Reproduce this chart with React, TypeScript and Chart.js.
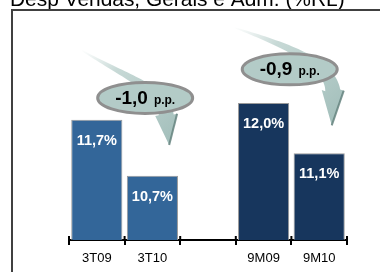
import React, { useEffect, useRef } from "react";
import { Chart, registerables } from "chart.js";

Chart.register(...registerables);

const titleText = "Desp Vendas, Gerais e Adm. (%RL)";
const categories = ["3T09", "3T10", "", "9M09", "9M10"];
const values: (number | null)[] = [11.7, 10.7, null, 12.0, 11.1];
const valueLabels = ["11,7%", "10,7%", "", "12,0%", "11,1%"];
const barColors = ["#336699", "#336699", "#336699", "#17365d", "#17365d"];
const calloutMain = ["-1,0", "-0,9"];
const calloutUnit = ["p.p.", "p.p."];
const calloutX = [0.87, 3.47];
const calloutY = [12.09, 12.6];

const FONT = "'Liberation Sans', Arial, Helvetica, sans-serif";

// arrow shapes relative to the callout centre (style geometry)
const ARROW_SHAPES = [
  { p0: [-64, -48], p1: [-22, -22], p2: [20, -8], p3: [21, 17], tip: [24, 47] },
  { p0: [-56, -42], p1: [-10, -26], p2: [40, -8], p3: [43, 21], tip: [42, 56] },
];

function drawArrow(ctx: CanvasRenderingContext2D, cx: number, cy: number, k: number) {
  const s = ARROW_SHAPES[k];
  const P = [s.p0, s.p1, s.p2, s.p3].map((p) => ({ x: cx + p[0], y: cy + p[1] }));
  const tip = { x: cx + s.tip[0], y: cy + s.tip[1] };
  const headHalf = 11;
  const left: { x: number; y: number }[] = [];
  const right: { x: number; y: number }[] = [];
  const N = 40;
  for (let i = 0; i <= N; i++) {
    const t = i / N;
    const a = (1 - t) ** 3, b = 3 * (1 - t) ** 2 * t, c = 3 * (1 - t) * t * t, d = t ** 3;
    const x = a * P[0].x + b * P[1].x + c * P[2].x + d * P[3].x;
    const y = a * P[0].y + b * P[1].y + c * P[2].y + d * P[3].y;
    const dx = 3 * (1 - t) ** 2 * (P[1].x - P[0].x) + 6 * (1 - t) * t * (P[2].x - P[1].x) + 3 * t * t * (P[3].x - P[2].x);
    const dy = 3 * (1 - t) ** 2 * (P[1].y - P[0].y) + 6 * (1 - t) * t * (P[2].y - P[1].y) + 3 * t * t * (P[3].y - P[2].y);
    const len = Math.hypot(dx, dy) || 1;
    const nx = -dy / len;
    const ny = dx / len;
    const hw = 0.5 + 7 * t;
    left.push({ x: x + nx * hw, y: y + ny * hw });
    right.push({ x: x - nx * hw, y: y - ny * hw });
  }
  const B = P[3];
  const ddx = tip.x - B.x;
  const ddy = tip.y - B.y;
  const len = Math.hypot(ddx, ddy);
  const nx = -ddy / len;
  const ny = ddx / len;
  const grad = ctx.createLinearGradient(P[0].x, P[0].y, tip.x, tip.y);
  grad.addColorStop(0, "rgba(255,255,255,0.9)");
  grad.addColorStop(0.3, "#c7d9d6");
  grad.addColorStop(1, "#a3bfbb");
  ctx.save();
  ctx.beginPath();
  ctx.moveTo(left[0].x, left[0].y);
  for (const p of left) ctx.lineTo(p.x, p.y);
  ctx.lineTo(B.x + nx * headHalf, B.y + ny * headHalf);
  ctx.lineTo(tip.x, tip.y);
  ctx.lineTo(B.x - nx * headHalf, B.y - ny * headHalf);
  for (let i = right.length - 1; i >= 0; i--) ctx.lineTo(right[i].x, right[i].y);
  ctx.closePath();
  ctx.fillStyle = grad;
  ctx.fill();
  ctx.beginPath();
  ctx.moveTo(B.x - nx * headHalf, B.y - ny * headHalf);
  ctx.lineTo(tip.x, tip.y);
  ctx.strokeStyle = "rgba(100,130,126,0.85)";
  ctx.lineWidth = 2;
  ctx.stroke();
  ctx.restore();
}

const decorPlugin = {
  id: "decor",
  beforeDraw(chart: any) {
    const ctx = chart.ctx as CanvasRenderingContext2D;
    ctx.save();
    ctx.fillStyle = "#ffffff";
    ctx.fillRect(0, 0, chart.width, chart.height);
    ctx.fillStyle = "#000000";
    ctx.font = `18px ${FONT}`;
    const w = ctx.measureText(titleText).width;
    const size = (18 * 335) / w;
    ctx.font = `${size}px ${FONT}`;
    ctx.textBaseline = "alphabetic";
    ctx.textAlign = "left";
    ctx.fillText(titleText, 10, 6);
    ctx.strokeStyle = "#404040";
    ctx.lineWidth = 2;
    ctx.beginPath();
    ctx.moveTo(12, chart.height + 5);
    ctx.lineTo(12, 10);
    ctx.lineTo(chart.width + 5, 10);
    ctx.stroke();
    ctx.restore();
  },
  afterDraw(chart: any) {
    const ctx = chart.ctx as CanvasRenderingContext2D;
    const xs = chart.scales.x;
    const ys = chart.scales.y;
    const meta = chart.getDatasetMeta(0);
    ctx.save();
    ctx.strokeStyle = "#000";
    ctx.lineWidth = 2;
    const bottom = chart.chartArea.bottom;
    const step = xs.getPixelForValue(1) - xs.getPixelForValue(0);
    for (let i = 0; i <= categories.length; i++) {
      const px = xs.getPixelForValue(0) - step / 2 + i * step;
      ctx.beginPath();
      ctx.moveTo(px, bottom - 4);
      ctx.lineTo(px, bottom);
      ctx.stroke();
    }
    ctx.fillStyle = "#ffffff";
    ctx.font = `bold 14.5px ${FONT}`;
    ctx.textAlign = "center";
    ctx.textBaseline = "middle";
    meta.data.forEach((bar: any, i: number) => {
      if (values[i] == null) return;
      ctx.fillText(valueLabels[i], bar.x, bar.y + 21);
    });
    for (let k = 0; k < calloutMain.length; k++) {
      const cx = xs.getPixelForValue(calloutX[k]);
      const cy = ys.getPixelForValue(calloutY[k]);
      drawArrow(ctx, cx, cy, k);
    }
    for (let k = 0; k < calloutMain.length; k++) {
      const cx = xs.getPixelForValue(calloutX[k]);
      const cy = ys.getPixelForValue(calloutY[k]);
      ctx.beginPath();
      ctx.ellipse(cx, cy, 47.5, 15.5, 0, 0, Math.PI * 2);
      ctx.fillStyle = "#b3cbc7";
      ctx.fill();
      ctx.strokeStyle = "#8f8f8f";
      ctx.lineWidth = 3;
      ctx.stroke();
      ctx.fillStyle = "#000";
      ctx.font = `bold 19px ${FONT}`;
      const mw = ctx.measureText(calloutMain[k]).width;
      ctx.font = `bold 12px ${FONT}`;
      const uw = ctx.measureText(calloutUnit[k]).width;
      const gap = 6;
      const total = mw + gap + uw;
      const x0 = cx - total / 2;
      ctx.textAlign = "left";
      ctx.textBaseline = "alphabetic";
      ctx.font = `bold 19px ${FONT}`;
      ctx.fillText(calloutMain[k], x0, cy + 6);
      ctx.font = `bold 12px ${FONT}`;
      ctx.fillText(calloutUnit[k], x0 + mw + gap, cy + 6);
    }
    ctx.restore();
  },
};

export default function App() {
  const ref = useRef<HTMLCanvasElement | null>(null);
  useEffect(() => {
    if (!ref.current) return;
    const chart = new Chart(ref.current, {
      type: "bar",
      data: {
        labels: categories,
        datasets: [
          {
            data: values as any,
            backgroundColor: barColors,
            borderColor: "#9a9a9a",
            borderWidth: 1,
            categoryPercentage: 1,
            barPercentage: 0.92,
          },
        ],
      },
      options: {
        animation: false,
        responsive: false,
        devicePixelRatio: 1,
        layout: { padding: { left: 69, right: 33, top: 19, bottom: 0 } },
        plugins: { legend: { display: false }, tooltip: { enabled: false }, title: { display: false } },
        scales: {
          x: {
            offset: true,
            grid: {
              offset: true,
              drawOnChartArea: false,
              drawTicks: true,
              tickLength: 5,
              color: "#000",
              lineWidth: 2,
            },
            border: { display: true, color: "#000", width: 2 },
            ticks: {
              color: "#000",
              font: { family: FONT, size: 13 },
              padding: 6,
              maxRotation: 0,
              autoSkip: false,
            },
            afterFit: (scale: any) => {
              scale.height = 32;
            },
          },
          y: {
            display: false,
            min: 9.55,
            max: 13.5,
          },
        },
      },
      plugins: [decorPlugin],
    });
    return () => chart.destroy();
  }, []);
  return (
    <div style={{ position: "fixed", left: 0, top: 0, width: 380, height: 272 }}>
      <canvas ref={ref} width={380} height={272} style={{ width: 380, height: 272, display: "block" }} />
    </div>
  );
}
